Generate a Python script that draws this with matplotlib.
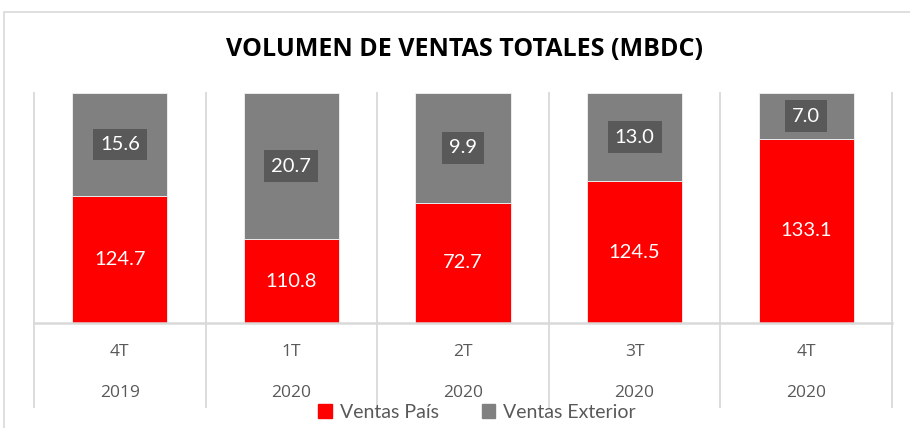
import matplotlib.pyplot as plt
from matplotlib.patches import Rectangle

# Data
periodos = ["4T", "1T", "2T", "3T", "4T"]
anios = ["2019", "2020", "2020", "2020", "2020"]
ventas_pais = [124.7, 110.8, 72.7, 124.5, 133.1]
ventas_exterior = [15.6, 20.7, 9.9, 13.0, 7.0]
# bar heights as drawn (share of the plot height taken by the red segment)
altura_pais = [0.552, 0.365, 0.522, 0.617, 0.800]

ROJO = "#FF0000"
GRIS = "#808080"
GRIS_OSC = "#595959"
LINEA = "#D9D9D9"

plt.rcParams["font.family"] = ["Lato", "DejaVu Sans"]

fig = plt.figure(figsize=(9.1, 4.28), dpi=100)
W, H = 910, 428

# chart border
fig.patches.append(Rectangle((4 / W, -0.1), 1.2, 1 - 12 / H + 0.1, transform=fig.transFigure,
                             fill=False, edgecolor=LINEA, linewidth=1.2))

ax = fig.add_axes([34 / W, 1 - 323 / H, (892 - 34) / W, (323 - 93) / H])
x = list(range(len(periodos)))
altura_ext = [1 - p for p in altura_pais]

ax.bar(x, altura_pais, width=0.555, color=ROJO, edgecolor="#F2F2F2", linewidth=0.6, zorder=3)
ax.bar(x, altura_ext, width=0.555, bottom=altura_pais, color=GRIS, edgecolor="#F2F2F2",
       linewidth=0.6, zorder=3)

ax.set_xlim(-0.5, len(x) - 0.5)
ax.set_ylim(0, 1)
ax.axis("off")

# category dividers and baseline
for xb in [i - 0.5 for i in range(len(x) + 1)]:
    ax.plot([xb, xb], [1, -0.365], color=LINEA, linewidth=1.3, clip_on=False, zorder=1)
ax.plot([-0.5, len(x) - 0.5], [0, 0], color=LINEA, linewidth=1.8, clip_on=False, zorder=4)

for i in x:
    hp = altura_pais[i]
    ax.text(i, hp / 2, f"{ventas_pais[i]:.1f}", ha="center", va="center", color="white",
            fontsize=14.5, zorder=5)
    ax.text(i, hp + (1 - hp) / 2, f"{ventas_exterior[i]:.1f}", ha="center", va="center",
            color="white", fontsize=14.5, zorder=5,
            bbox=dict(boxstyle="square,pad=0.35", facecolor=GRIS_OSC, edgecolor="none"))
    ax.text(i, -0.126, periodos[i], ha="center", va="center", color=GRIS_OSC, fontsize=12.5,
            family=["Open Sans", "DejaVu Sans"])
    ax.text(i, -0.304, anios[i], ha="center", va="center", color=GRIS_OSC, fontsize=12.5,
            family=["Open Sans", "DejaVu Sans"])

fig.text(465 / W, 1 - 50 / H, "VOLUMEN DE VENTAS TOTALES (MBDC)", ha="center", va="center",
         fontsize=18, fontweight="bold", color="black", family=["Open Sans", "DejaVu Sans"])

handles = [Rectangle((0, 0), 1, 1, color=ROJO), Rectangle((0, 0), 1, 1, color=GRIS)]
fig.legend(handles, ["Ventas País", "Ventas Exterior"], loc="center", ncol=2,
           bbox_to_anchor=(477 / W, 1 - 412 / H), frameon=False, fontsize=14,
           labelcolor=GRIS_OSC, handlelength=0.7, handleheight=0.7, handletextpad=0.4,
           columnspacing=2.2, borderpad=0)

fig.savefig("out.png", dpi=100)
